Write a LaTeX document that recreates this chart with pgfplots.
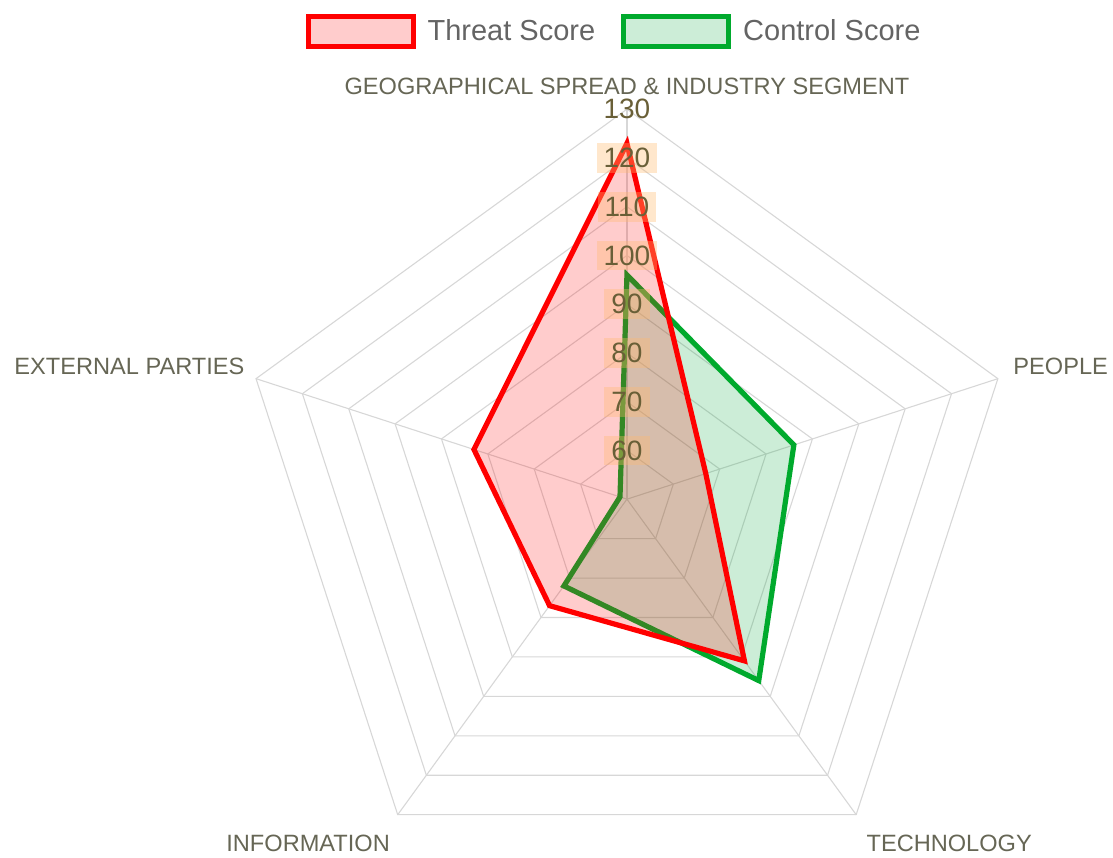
\documentclass[border=0pt]{standalone}
\usepackage{pgfplots}
\pgfplotsset{compat=1.18}
\usepackage{pgfplotstable}
\usepackage{fontspec}
\setmainfont{Liberation Sans}
\definecolor{threat}{RGB}{255,0,0}
\definecolor{ctrl}{RGB}{0,170,45}
\definecolor{ctrlfill}{RGB}{0,165,55}
\definecolor{gridc}{RGB}{215,215,215}
\definecolor{lab}{RGB}{102,102,85}
\definecolor{tick}{RGB}{105,95,55}
\definecolor{legtext}{RGB}{100,100,100}
\definecolor{backd}{RGB}{255,185,110}

\pgfplotstableread{
a v
90 123
18 67
-54 91
-126 77
162 83
}\threat
\pgfplotstableread{
a v
90 96
18 86
-54 96
-126 72
162 51.5
}\control
\pgfplotstableread{
a d
90 1
18 1
-54 1
-126 1
162 1
90 1
}\angles

\begin{document}
\begin{tikzpicture}
\begin{axis}[name=ax,
  scale only axis, width=556.5pt, height=428.5pt,
  xmin=-128.6, xmax=99.7, ymin=-73.4, ymax=102.4,
  hide axis, clip=false,
  legend columns=2,
  legend image code/.code={\draw[#1] (0pt,-7.5pt) rectangle (52.5pt,7.5pt);},
  legend style={at={(axis cs:-66.0,96.0)}, anchor=west, draw=none, fill=none,
    font=\fontsize{14.5}{16}\selectfont, text=legtext,
    /tikz/every odd column/.append style={column sep=4pt},
    /tikz/every even column/.append style={column sep=11pt},
    inner sep=0pt},
]
% grid rings
\pgfplotsinvokeforeach{60,70,...,130}{
  \addplot[gridc, line width=0.55pt, forget plot] table[x expr={(#1-50)*cos(\thisrow{a})}, y expr={(#1-50)*sin(\thisrow{a})}] {\angles};
}
% spokes
\pgfplotsinvokeforeach{90,18,-54,-126,162}{
  \addplot[gridc, line width=0.55pt, forget plot] coordinates {(0,0) ({80*cos(#1)},{80*sin(#1)})};
}
% data (control drawn first, threat on top)
\addplot[draw=ctrl, line width=2.6pt, line join=miter, fill=ctrlfill, fill opacity=0.2, draw opacity=1, forget plot]
  table[x expr={(\thisrow{v}-50)*cos(\thisrow{a})}, y expr={(\thisrow{v}-50)*sin(\thisrow{a})}] {\control} -- cycle;
\addplot[draw=threat, line width=2.6pt, line join=miter, fill=threat, fill opacity=0.2, draw opacity=1, forget plot]
  table[x expr={(\thisrow{v}-50)*cos(\thisrow{a})}, y expr={(\thisrow{v}-50)*sin(\thisrow{a})}] {\threat} -- cycle;
% legend entries
\addlegendimage{draw=threat, line width=2.5pt, fill=threat, fill opacity=0.2, draw opacity=1}
\addlegendentry{Threat Score}
\addlegendimage{draw=ctrl, line width=2.5pt, fill=ctrlfill, fill opacity=0.2, draw opacity=1}
\addlegendentry{Control Score}
% tick labels
\pgfplotsinvokeforeach{60,70,...,120}{
  \node[fill=backd, fill opacity=0.35, text opacity=1, text=tick, inner xsep=3.5pt, inner ysep=2.5pt,
    font=\fontsize{14}{14}\selectfont] at (axis cs:0,#1-50) {#1};
}
\node[text=tick, font=\fontsize{14}{14}\selectfont] at (axis cs:0,80) {130};
% axis labels
\node[text=lab, inner sep=0pt, font=\fontsize{11.8}{12}\selectfont] at (axis cs:0,84.7) {GEOGRAPHICAL SPREAD \& INDUSTRY SEGMENT};
\node[text=lab, inner sep=0pt, font=\fontsize{11.8}{12}\selectfont, anchor=west] at (axis cs:79.2,27.3) {PEOPLE};
\node[text=lab, inner sep=0pt, font=\fontsize{11.8}{12}\selectfont, anchor=east] at (axis cs:-78.4,27.3) {EXTERNAL PARTIES};
\node[text=lab, inner sep=0pt, font=\fontsize{11.8}{12}\selectfont] at (axis cs:-65.4,-70.6) {INFORMATION};
\node[text=lab, inner sep=0pt, font=\fontsize{11.8}{12}\selectfont] at (axis cs:66.1,-70.6) {TECHNOLOGY};
\end{axis}
\path (ax.south west) rectangle (ax.north east);
\end{tikzpicture}
\end{document}
